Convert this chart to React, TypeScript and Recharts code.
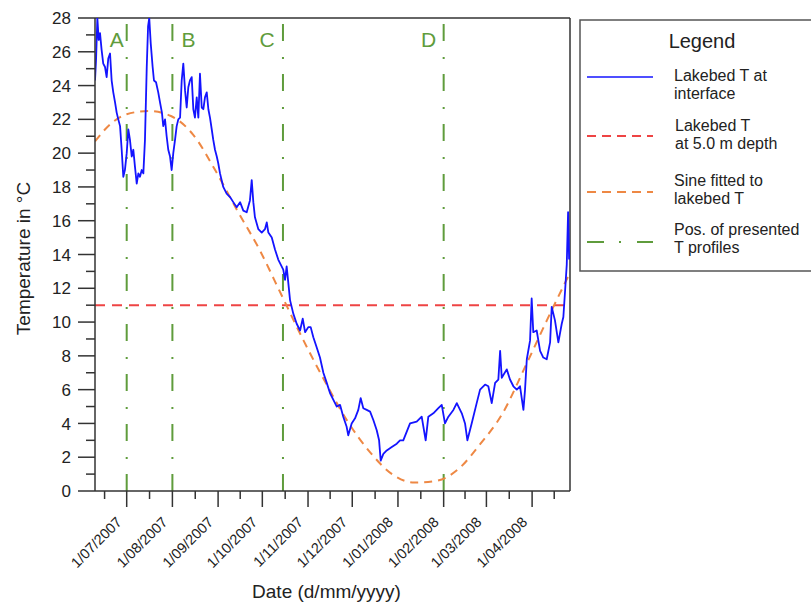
import React from 'react';
import { LineChart, Line, XAxis, YAxis, ReferenceLine, Legend } from 'recharts';

const FONT = '"Liberation Sans", Arial, Helvetica, sans-serif';
const BLUE = '#1414ff';
const RED = '#ee4444';
const ORANGE = '#ee8844';
const GREEN = '#5f9c3c';
const AXIS = '#333333';
const TEXT = '#222222';

// x = days since 1/07/2007
const monthStartDays = [0, 31, 62, 92, 123, 153, 184, 215, 244, 275];
const monthLabels = [
  '1/07/2007', '1/08/2007', '1/09/2007', '1/10/2007', '1/11/2007',
  '1/12/2007', '1/01/2008', '1/02/2008', '1/03/2008', '1/04/2008',
];
const midMonthDays = [-15, 15.5, 46.5, 77, 107.5, 138, 168.5, 199.5, 229.5, 259.5, 290];
const dayDomain = [-21.5, 300.7];

const tempTicks = [0, 1, 2, 3, 4, 5, 6, 7, 8, 9, 10, 11, 12, 13, 14, 15, 16, 17, 18, 19, 20, 21, 22, 23, 24, 25, 26, 27, 28];
const tempDomain = [0, 28];

const lakebedDepthT = 11;

const profileNames = ['A', 'B', 'C', 'D'];
const profileDays = [0, 31, 106, 215];

// Lakebed T at interface: [day, °C]
const interfaceReadings: [number, number][] = [
  [-21.5, 24.3], [-20.8, 25.5], [-19.9, 28.0], [-19.0, 26.7], [-18.1, 27.1], [-17.0, 26.1], [-15.9, 25.3],
  [-14.7, 25.1], [-13.6, 24.5], [-12.5, 25.6], [-11.3, 25.9], [-10.2, 24.3], [-9.1, 23.6], [-7.9, 23.0],
  [-6.8, 22.4], [-5.7, 22.0], [-4.5, 21.6], [-3.4, 20.2], [-2.3, 18.6], [-1.2, 19.0], [0, 20.0],
  [1.1, 21.4], [2.2, 20.8], [3.4, 19.8], [4.5, 20.2], [5.6, 19.2], [6.8, 18.2], [7.9, 18.8],
  [9.0, 18.6], [10.2, 19.0], [11.3, 18.8], [12.4, 20.8], [13.6, 25.1], [14.5, 27.5], [15.3, 28.0],
  [16.3, 26.5], [17.6, 25.1], [18.5, 24.3], [19.9, 24.2], [21.4, 23.6], [22.6, 23.0], [23.9, 22.4],
  [24.8, 21.6], [26.0, 22.0], [27.1, 21.0], [28.2, 20.2], [29.4, 19.8], [30.5, 19.0], [31.6, 20.0],
  [32.8, 20.8], [33.9, 21.6], [35.0, 22.0], [36.2, 22.1], [37.3, 24.3], [38.4, 25.3], [39.6, 23.7],
  [40.7, 22.7], [41.8, 23.9], [42.9, 24.3], [44.1, 24.5], [45.2, 22.6], [46.3, 22.1], [47.5, 23.3],
  [48.6, 22.1], [49.7, 24.7], [50.9, 22.7], [52.0, 22.6], [53.1, 23.3], [54.3, 23.6], [55.4, 22.6],
  [56.5, 22.1], [57.7, 21.4], [58.7, 20.8], [59.9, 20.2], [61.1, 19.8], [62.1, 19.4], [63.3, 18.8],
  [64.4, 18.4], [65.5, 18.0], [67.8, 17.6], [70.1, 17.4], [72.3, 17.1], [74.6, 16.8], [76.9, 17.1],
  [79.1, 16.6], [81.4, 16.5], [83.6, 17.2], [84.8, 18.4], [85.9, 17.1], [87.0, 16.2], [89.3, 15.5],
  [91.6, 15.3], [93.8, 15.5], [95.0, 15.9], [96.1, 15.3], [98.4, 15.0], [100.6, 14.3], [102.8, 13.7],
  [106.2, 13.1], [107.4, 12.5], [108.5, 13.3], [110.8, 11.3], [113.0, 10.5], [115.3, 9.9], [117.6, 9.5],
  [119.4, 10.2], [121.0, 9.4], [123.2, 9.7], [124.8, 9.7], [126.6, 9.1], [128.9, 8.5], [131.1, 7.9],
  [133.4, 7.0], [135.7, 6.4], [137.9, 5.8], [140.2, 5.4], [142.5, 5.0], [144.7, 5.1], [146.9, 4.4],
  [149.2, 3.8], [150.3, 3.3], [152.6, 4.0], [154.9, 4.3], [157.1, 4.8], [158.7, 5.5], [160.5, 4.9],
  [162.8, 4.8], [165.1, 4.7], [167.3, 4.2], [169.6, 3.6], [171.2, 3.0], [172.3, 1.8], [174.1, 2.2],
  [176.4, 2.4], [179.8, 2.6], [183.2, 2.8], [185.4, 3.0], [187.6, 3.0], [192.2, 4.0], [196.7, 4.1],
  [200.1, 4.4], [202.8, 3.0], [204.6, 4.4], [208.0, 4.6], [211.4, 4.9], [213.7, 5.1], [215.9, 4.0],
  [218.2, 4.4], [221.6, 4.8], [223.9, 5.2], [227.3, 4.6], [229.5, 4.0], [231.1, 3.0], [234.0, 4.0],
  [237.4, 5.2], [239.7, 6.0], [243.1, 6.3], [245.3, 6.2], [247.6, 5.2], [249.9, 6.4], [252.1, 6.6],
  [253.3, 8.3], [254.4, 6.7], [257.8, 7.2], [260.0, 6.6], [262.3, 6.2], [264.6, 6.0], [266.8, 6.2],
  [269.1, 4.8], [270.2, 6.0], [271.4, 7.8], [273.6, 8.9], [274.7, 11.4], [275.8, 9.4], [278.1, 9.5],
  [280.4, 8.3], [282.6, 7.9], [284.9, 7.8], [287.2, 8.8], [288.3, 10.9], [290.5, 10.1], [292.8, 8.8],
  [295.1, 9.9], [296.2, 10.3], [297.4, 11.9], [298.5, 13.4], [299.4, 16.5], [300.1, 13.7],
];

// Sine fitted to lakebed T: [day, °C]
const sineReadings: [number, number][] = [
  [-21.5, 20.7], [-10, 21.8], [0, 22.3], [15, 22.5], [30, 22.2], [45, 21.1], [60, 19.0],
  [75, 16.6], [90, 14.3], [105, 11.6], [120, 8.9], [135, 6.4], [150, 4.1], [165, 2.3],
  [180, 1.0], [195, 0.5], [210, 0.6], [225, 1.3], [240, 2.8], [255, 4.6], [270, 7.3],
  [285, 10.1], [300, 12.8],
];

const interfaceData = interfaceReadings.map(([day, t]) => ({ day, t }));
const sineData = sineReadings.map(([day, t]) => ({ day, t }));
const xTicks = [...monthStartDays, ...midMonthDays].sort((a, b) => a - b);

const labelDx: Record<string, number> = { A: -10, B: 16, C: -16, D: -15 };

const XTick = (props: any) => {
  const { x, y, payload } = props;
  const i = monthStartDays.indexOf(payload.value);
  const major = i >= 0;
  const tx = x - 4;
  const ty = y + 32;
  return (
    <g>
      <line x1={x} y1={y} x2={x} y2={y + (major ? 16 : 8)} stroke={AXIS} strokeWidth={1.5} />
      {major && (
        <text x={tx} y={ty} transform={`rotate(-45 ${tx} ${ty})`} textAnchor="end"
          fontSize={14.5} fontFamily={FONT} fill={TEXT}>{monthLabels[i]}</text>
      )}
    </g>
  );
};

const YTick = (props: any) => {
  const { x, y, payload } = props;
  const v = payload.value;
  const major = v % 2 === 0;
  return (
    <g>
      <line x1={x - (major ? 17 : 9)} y1={y} x2={x} y2={y} stroke={AXIS} strokeWidth={1.5} />
      {major && (
        <text x={x - 24} y={y} dy="0.36em" textAnchor="end" fontSize={17} fontFamily={FONT} fill={TEXT}>{v}</text>
      )}
    </g>
  );
};

const xTitle = (props: any) => {
  const vb = props.viewBox || { x: 95, y: 491, width: 475, height: 112 };
  const cx = vb.x + vb.width / 2 - 6;
  const cy = vb.y + vb.height - 5;
  return <text x={cx} y={cy} textAnchor="middle" fontSize={19} fontFamily={FONT} fill={TEXT}>Date (d/mm/yyyy)</text>;
};

const yTitle = (props: any) => {
  const vb = props.viewBox || { x: 0, y: 18, width: 95, height: 473 };
  const cx = vb.x + 23;
  const cy = vb.y + vb.height / 2 + 4;
  return (
    <text x={cx} y={cy} dy="0.36em" transform={`rotate(-90 ${cx} ${cy})`} textAnchor="middle"
      fontSize={19} fontFamily={FONT} fill={TEXT}>Temperature in °C</text>
  );
};

const profileLabel = (name: string) => (props: any) => {
  const vb = props.viewBox || { x: 0, y: 18 };
  return (
    <text x={vb.x + labelDx[name]} y={vb.y + 29} textAnchor="middle" fontSize={21} fontFamily={FONT} fill={GREEN}>{name}</text>
  );
};

const LegendBox = () => (
  <svg width={232} height={254} style={{ display: 'block' }}>
    <path d="M233 1 H1 V252 H233" fill="none" stroke="#555" strokeWidth={1.5} />
    <text x={123} y={29} textAnchor="middle" fontSize={20} fontFamily={FONT} fill={TEXT}>Legend</text>
    <line x1={8} y1={58} x2={74} y2={58} stroke={BLUE} strokeWidth={1.5} />
    <text x={95} y={62} fontSize={16} fontFamily={FONT} fill={TEXT}>Lakebed T at</text>
    <text x={95} y={80} fontSize={16} fontFamily={FONT} fill={TEXT}>interface</text>
    <line x1={8} y1={117} x2={74} y2={117} stroke={RED} strokeWidth={2} strokeDasharray="9 6" />
    <text x={96} y={112} fontSize={16} fontFamily={FONT} fill={TEXT}>Lakebed T</text>
    <text x={96} y={130} fontSize={16} fontFamily={FONT} fill={TEXT}>at 5.0 m depth</text>
    <line x1={8} y1={173} x2={74} y2={173} stroke={ORANGE} strokeWidth={2} strokeDasharray="9 6" />
    <text x={95} y={167} fontSize={16} fontFamily={FONT} fill={TEXT}>Sine fitted to</text>
    <text x={95} y={185} fontSize={16} fontFamily={FONT} fill={TEXT}>lakebed T</text>
    <line x1={8} y1={223} x2={74} y2={223} stroke={GREEN} strokeWidth={2} strokeDasharray="17 15 2 16" />
    <text x={95} y={216} fontSize={16} fontFamily={FONT} fill={TEXT}>Pos. of presented</text>
    <text x={95} y={234} fontSize={16} fontFamily={FONT} fill={TEXT}>T profiles</text>
  </svg>
);

export default function App() {
  return (
    <div style={{ position: 'absolute', left: 0, top: 0, width: 811, height: 603, background: '#fff' }}>
      <LineChart width={811} height={603} margin={{ top: 18, right: 241, bottom: 0, left: 0 }}>
        <XAxis
          type="number"
          dataKey="day"
          domain={dayDomain}
          allowDataOverflow
          ticks={xTicks}
          interval={0}
          tick={<XTick />}
          tickLine={false}
          tickSize={0}
          tickMargin={0}
          height={112}
          axisLine={{ stroke: AXIS, strokeWidth: 1.5 }}
          label={xTitle}
        />
        <YAxis
          type="number"
          domain={tempDomain}
          allowDataOverflow
          ticks={tempTicks}
          interval={0}
          tick={<YTick />}
          tickLine={false}
          tickSize={0}
          tickMargin={0}
          width={95}
          axisLine={{ stroke: AXIS, strokeWidth: 1.5 }}
          label={yTitle}
        />
        <ReferenceLine y={tempDomain[1]} stroke={AXIS} strokeWidth={1.5} />
        <ReferenceLine x={dayDomain[1]} stroke={AXIS} strokeWidth={1.5} />
        {profileDays.map((d, i) => (
          <ReferenceLine key={profileNames[i]} x={d} stroke={GREEN} strokeWidth={2}
            strokeDasharray="17 15 2 16" label={profileLabel(profileNames[i])} />
        ))}
        <ReferenceLine y={lakebedDepthT} stroke={RED} strokeWidth={2} strokeDasharray="10 7" />
        <Line data={sineData} dataKey="t" type="monotone" stroke={ORANGE} strokeWidth={2}
          strokeDasharray="8 6" dot={false} isAnimationActive={false} />
        <Line data={interfaceData} dataKey="t" type="linear" stroke={BLUE} strokeWidth={1.8}
          strokeLinejoin="round" dot={false} isAnimationActive={false} />
        <Legend layout="vertical" align="center" verticalAlign="middle" content={<LegendBox />}
          wrapperStyle={{ left: 579, top: 19, width: 232, height: 254, margin: 0, padding: 0 }} />
      </LineChart>
    </div>
  );
}
